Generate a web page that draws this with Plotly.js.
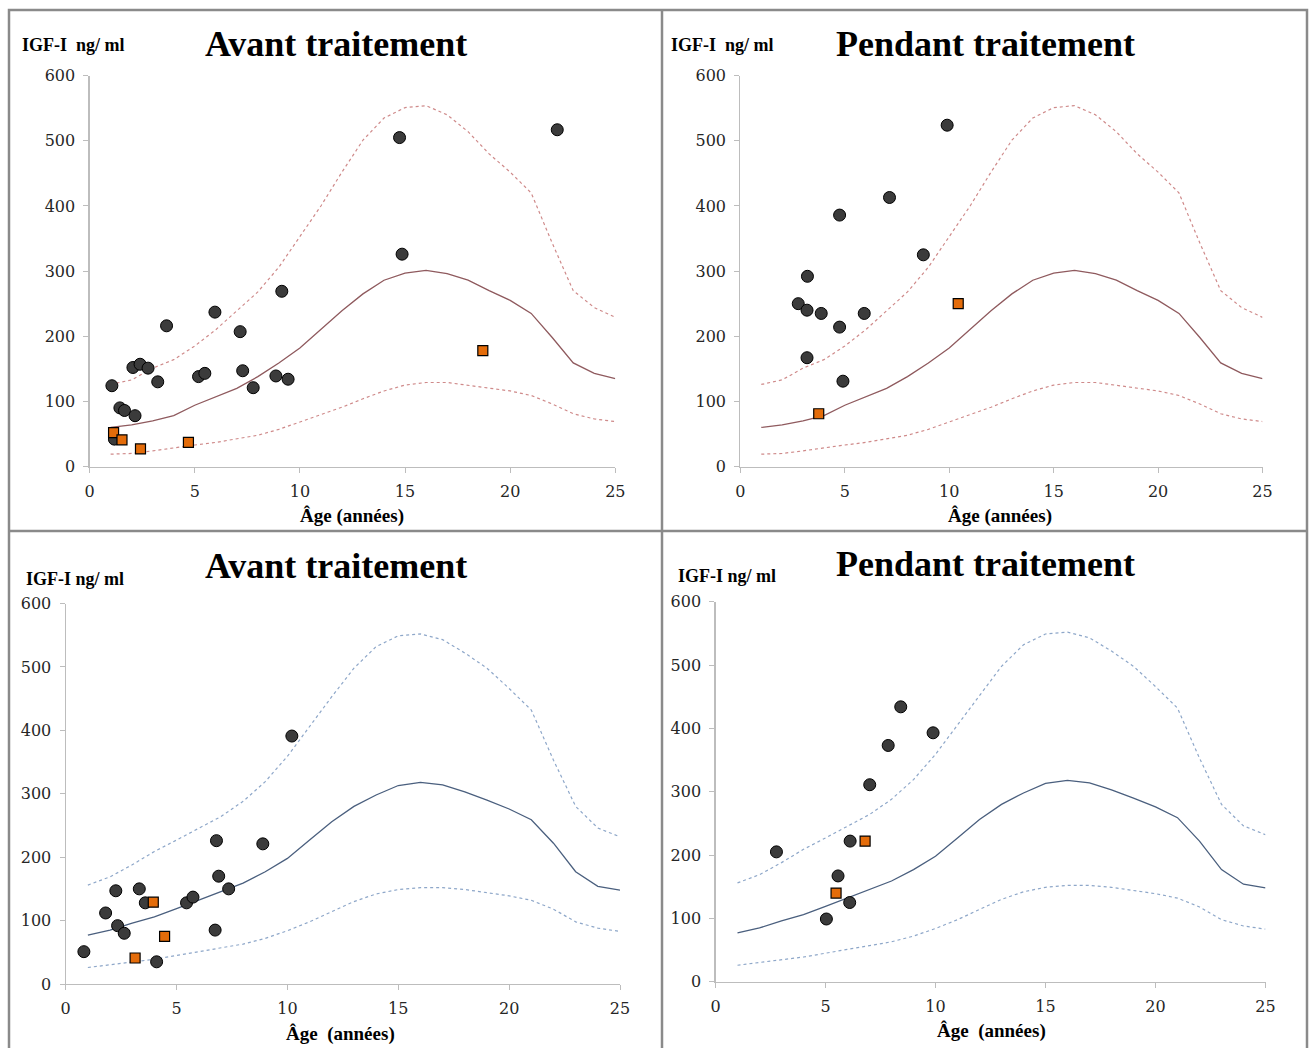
<!DOCTYPE html>
<html>
<head>
<meta charset="utf-8">
<script src="https://cdn.plot.ly/plotly-3.0.1.min.js"></script>
<style>html,body{margin:0;padding:0;background:#fff;}#chart{width:1311px;height:1048px;}</style>
</head>
<body>
<div id="chart"></div>
<script>
// ---------- DATA ----------
var ages = [1,2,3,4,5,6,7,8,9,10,11,12,13,14,15,16,17,18,19,20,21,22,23,24,25];

// reference curves (top row, red)
var redUpper = [126,133,151,164,185,210,239,268,306,353,400,452,501,535,551,554,540,514,480,452,420,343,270,244,229];
var redMid   = [60,64,70,78,94,107,120,138,159,182,210,239,265,286,297,301,296,286,270,255,235,198,159,143,135];
var redLower = [19,20,24,29,33,37,42,48,57,68,79,91,104,116,125,129,129,125,120,116,109,96,81,73,69];

// reference curves (bottom row, blue)
var blueUpper = [156,169,188,209,227,246,264,288,319,359,406,453,498,532,549,552,543,522,498,466,432,353,280,246,232];
var blueMid   = [77,85,96,106,119,132,146,159,177,198,227,256,280,298,313,318,314,303,290,276,259,222,177,154,148];
var blueLower = [26,30,34,39,45,51,56,63,72,84,98,114,130,142,149,152,152,149,144,139,132,118,98,88,83];

// panel 1 : top-left, Avant traitement
var p1CircX = [1.06,2.06,2.4,2.78,3.24,3.66,1.44,1.66,2.16,1.18,5.96,5.18,5.48,7.16,7.28,7.78,8.86,9.14,9.44,14.74,14.86,22.24];
var p1CircY = [124,152,157,151,130,216,90,86,78,42,237,138,143,207,147,121,139,269,134,505,326,517];
var p1SqX = [1.14,1.54,2.42,4.7,18.7];
var p1SqY = [52,41,27,37,178];

// panel 2 : top-right, Pendant traitement
var p2CircX = [2.77,3.21,3.19,3.87,3.19,4.75,4.75,4.91,5.93,7.14,8.76,9.9];
var p2CircY = [250,292,240,235,167,386,214,131,235,413,325,524];
var p2SqX = [3.75,10.43];
var p2SqY = [81,250];

// panel 3 : bottom-left, Avant traitement
var p3CircX = [0.82,1.8,2.26,2.34,2.64,3.32,3.59,4.1,5.45,5.74,6.8,6.74,6.9,7.35,8.89,10.2];
var p3CircY = [51,112,147,92,80,150,128,35,128,137,226,85,170,150,221,391];
var p3SqX = [3.95,4.46,3.13];
var p3SqY = [129,75,41];

// panel 4 : bottom-right, Pendant traitement
var p4CircX = [2.77,5.04,5.57,6.1,6.12,7.01,7.85,8.42,9.89];
var p4CircY = [205,99,167,125,222,311,373,434,393];
var p4SqX = [5.48,6.8];
var p4SqY = [140,222];

var titleTop = ["Avant traitement", "Pendant traitement"];
var titleBottom = ["Avant traitement", "Pendant traitement"];
var yLabelTop = "IGF-I\u00a0 ng/ ml";
var yLabelBottom = "IGF-I ng/ ml";
var xLabelTop = "Âge (années)";
var xLabelBottom = "Âge\u00a0 (années)";

// ---------- LAYOUT HELPERS ----------
var W = 1311, H = 1048;
function px(x){ return x / W; }
function py(y){ return 1 - y / H; }

var SERIF = "Liberation Serif, Times New Roman, serif";
var TICKFONT = {family: "DejaVu Serif, serif", size: 16, color: "#262626"};

var circColor = "#3b3b3b", sqColor = "#e46c0a";
var redDot = "#cf8a8a", redLine = "#8f5a5e";
var blueDot = "#8ea7c9", blueLine = "#4a5f7e";

function axisX(dom, anchor){
  return {domain: dom, anchor: anchor, range: [0,25], dtick: 5, tick0: 0,
    showline: true, linecolor: "#bdbdbd", linewidth: 1.2, ticks: "outside", ticklen: 5,
    tickcolor: "#bdbdbd", showgrid: false, zeroline: false, tickfont: TICKFONT,
    ticklabelstandoff: 5, fixedrange: true};
}
function axisY(dom, anchor){
  return {domain: dom, anchor: anchor, range: [0,600], dtick: 100, tick0: 0,
    showline: true, linecolor: "#bdbdbd", linewidth: 1.2, ticks: "outside", ticklen: 5,
    tickcolor: "#bdbdbd", showgrid: false, zeroline: false, tickfont: TICKFONT,
    ticklabelstandoff: 5, fixedrange: true};
}

var traces = [];
function addPanel(xa, ya, up, mid, low, dotCol, lineCol, cx, cy, sx, sy){
  traces.push({x: ages, y: up, xaxis: xa, yaxis: ya, mode: "lines", line: {color: dotCol, width: 1.2, dash: "dot"}, hoverinfo: "skip"});
  traces.push({x: ages, y: low, xaxis: xa, yaxis: ya, mode: "lines", line: {color: dotCol, width: 1.2, dash: "dot"}, hoverinfo: "skip"});
  traces.push({x: ages, y: mid, xaxis: xa, yaxis: ya, mode: "lines", line: {color: lineCol, width: 1.3}, hoverinfo: "skip"});
  traces.push({x: cx, y: cy, xaxis: xa, yaxis: ya, mode: "markers", cliponaxis: false,
    marker: {symbol: "circle", size: 12, color: circColor, line: {color: "#000", width: 1}}});
  traces.push({x: sx, y: sy, xaxis: xa, yaxis: ya, mode: "markers", cliponaxis: false,
    marker: {symbol: "square", size: 10, color: sqColor, line: {color: "#000", width: 1.2}}});
}
addPanel("x",  "y",  redUpper, redMid, redLower, redDot, redLine, p1CircX, p1CircY, p1SqX, p1SqY);
addPanel("x2", "y2", redUpper, redMid, redLower, redDot, redLine, p2CircX, p2CircY, p2SqX, p2SqY);
addPanel("x3", "y3", blueUpper, blueMid, blueLower, blueDot, blueLine, p3CircX, p3CircY, p3SqX, p3SqY);
addPanel("x4", "y4", blueUpper, blueMid, blueLower, blueDot, blueLine, p4CircX, p4CircY, p4SqX, p4SqY);

function ann(text, x, y, size, xanchor, bold){
  return {text: bold ? "<b>" + text + "</b>" : text, xref: "paper", yref: "paper",
    x: px(x), y: py(y), xanchor: xanchor, yanchor: "middle", showarrow: false,
    font: {family: SERIF, size: size, color: "#000"}};
}

var annotations = [
  ann(titleTop[0], 336, 44, 36, "center", true),
  ann(titleTop[1], 985, 44, 36, "center", true),
  ann(titleBottom[0], 336, 566, 36, "center", true),
  ann(titleBottom[1], 985, 564, 36, "center", true),
  ann(yLabelTop, 20, 45, 18, "left", true),
  ann(yLabelTop, 669, 45, 18, "left", true),
  ann(yLabelBottom, 24, 579, 18, "left", true),
  ann(yLabelBottom, 676, 576, 18, "left", true),
  ann(xLabelTop, 352, 516, 19, "center", true),
  ann(xLabelTop, 1000, 516, 19, "center", true),
  ann(xLabelBottom, 340, 1034, 19, "center", true),
  ann(xLabelBottom, 991, 1031, 19, "center", true)
];

var borderCol = "#8a8a8a";
var shapes = [
  {type: "rect", xref: "paper", yref: "paper", x0: px(9), x1: px(1307), y0: py(1060), y1: py(10), line: {color: borderCol, width: 2.5}},
  {type: "line", xref: "paper", yref: "paper", x0: px(662), x1: px(662), y0: py(1060), y1: py(10), line: {color: borderCol, width: 2.5}},
  {type: "line", xref: "paper", yref: "paper", x0: px(9), x1: px(1307), y0: py(531), y1: py(531), line: {color: borderCol, width: 2.5}}
];

var layout = {
  width: W, height: H, margin: {l: 0, r: 0, t: 0, b: 0},
  paper_bgcolor: "#fff", plot_bgcolor: "#fff", showlegend: false,
  xaxis:  axisX([px(89.6), px(615.3)], "y"),
  yaxis:  axisY([py(466.5), py(75.7)], "x"),
  xaxis2: axisX([px(740.4), px(1262.5)], "y2"),
  yaxis2: axisY([py(466.5), py(75.7)], "x2"),
  xaxis3: axisX([px(65.7), px(620)], "y3"),
  yaxis3: axisY([py(984), py(603.5)], "x3"),
  xaxis4: axisX([px(715.5), px(1265.5)], "y4"),
  yaxis4: axisY([py(981.7), py(601.7)], "x4"),
  annotations: annotations,
  shapes: shapes
};

Plotly.newPlot("chart", traces, layout, {displayModeBar: false, staticPlot: true});
</script>
</body>
</html>
